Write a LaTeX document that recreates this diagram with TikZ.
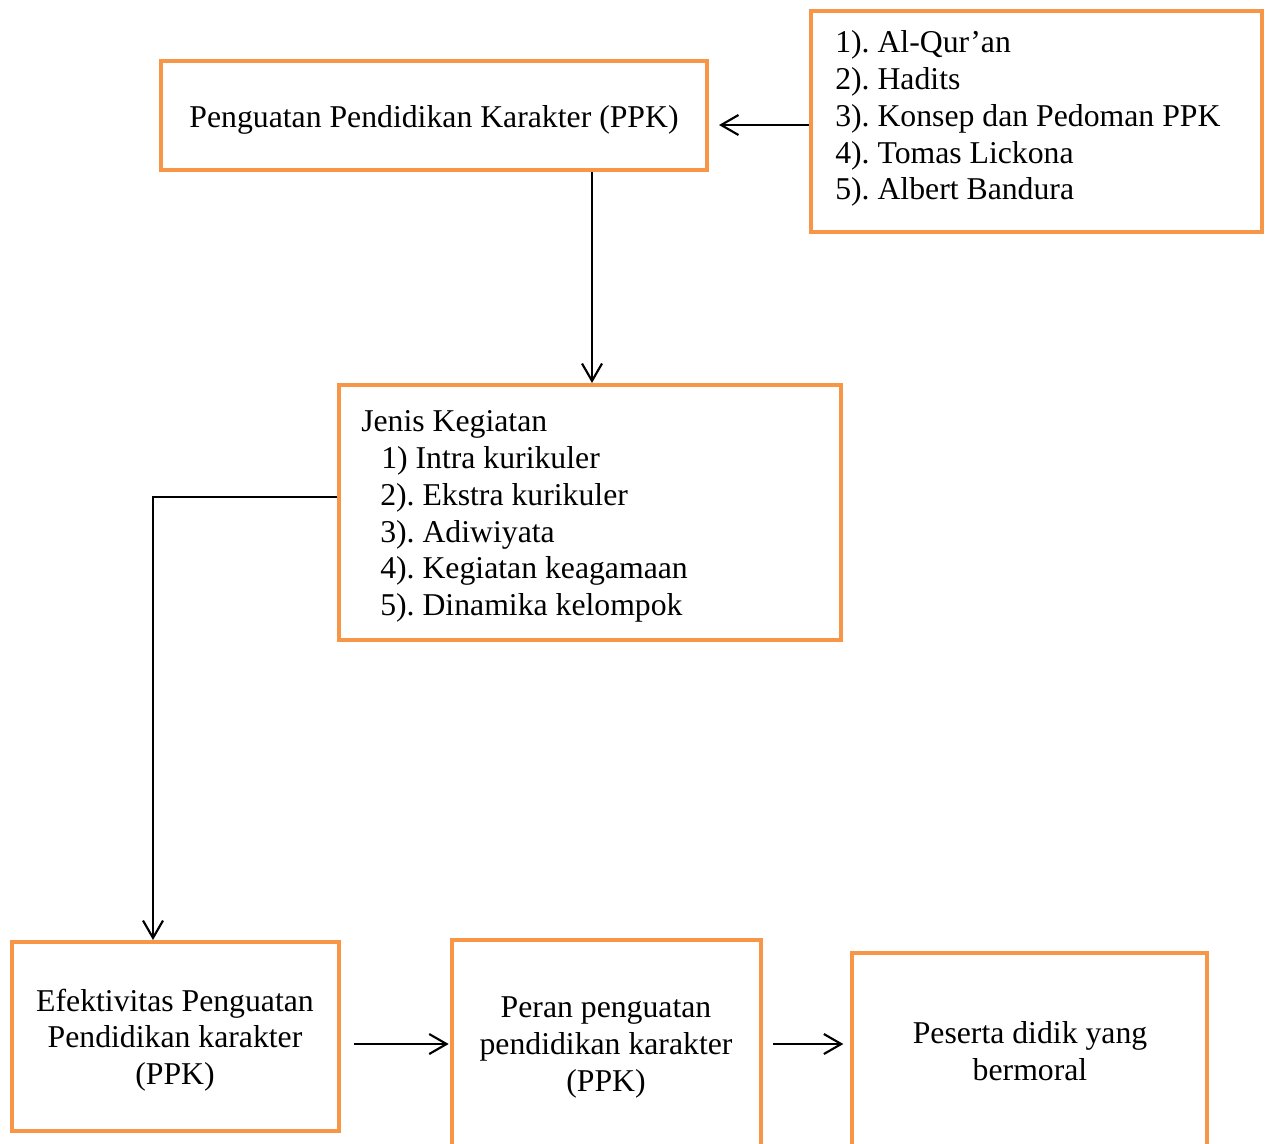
\documentclass[tikz,border=0pt]{standalone}
\usepackage{fontspec}
\setmainfont{Liberation Serif}
\usetikzlibrary{arrows.meta}
\definecolor{boxorange}{HTML}{F79646}
\frenchspacing
\tikzset{
  box/.style={draw=boxorange, line width=3pt, rectangle, inner sep=0pt, fill=none},
  arr/.style={line width=1.6pt, -{Straight Barb[length=13pt,width=15pt]}},
  txt/.style={inner sep=0pt, font=\frenchspacing\fontsize{23.8}{27.75}\selectfont, text=black},
}
\begin{document}
\begin{tikzpicture}[x=0.75pt,y=-0.75pt]
\useasboundingbox (0,0) rectangle (1266,1143);
\clip (0,0) rectangle (1266,1143);
\fill[white] (0,0) rectangle (1266,1143);

% boxes
\node[box, minimum width=409.5pt, minimum height=81.75pt] (ppk) at (434,115.5) {};
\node[box, minimum width=338.25pt, minimum height=165.75pt] (src) at (1036.5,121.5) {};
\node[box, minimum width=376.5pt, minimum height=191.25pt] (jenis) at (590,512.5) {};
\node[box, minimum width=245.25pt, minimum height=141.75pt] (efek) at (175.5,1036.5) {};
\node[box, minimum width=231.75pt, minimum height=180pt] (peran) at (606.5,1060) {};
\node[box, minimum width=266.25pt, minimum height=170.25pt] (peserta) at (1029.5,1066.5) {};

% texts
\node[txt, anchor=base] (tppk) at (434,127) {Penguatan Pendidikan Karakter (PPK)};

\node[txt, anchor=base west] (s1) at (835,52) {1). Al-Qur’an};
\node[txt, anchor=base west] (s2) at (835,89) {2). Hadits};
\node[txt, anchor=base west] (s3) at (835,126) {3). Konsep dan Pedoman PPK};
\node[txt, anchor=base west] (s4) at (835,163) {4). Tomas Lickona};
\node[txt, anchor=base west] (s5) at (835,199) {5). Albert Bandura};

\node[txt, anchor=base west] (j0) at (361,431.5) {Jenis Kegiatan};
\node[txt, anchor=base west] (j1) at (381,468.5) {1) Intra kurikuler};
\node[txt, anchor=base west] (j2) at (380,505.5) {2). Ekstra kurikuler};
\node[txt, anchor=base west] (j3) at (380,542.5) {3). Adiwiyata};
\node[txt, anchor=base west] (j4) at (380,578.5) {4). Kegiatan keagamaan};
\node[txt, anchor=base west] (j5) at (380,615.5) {5). Dinamika kelompok};

\node[txt, anchor=base] (e1) at (175,1011) {Efektivitas Penguatan};
\node[txt, anchor=base] (e2) at (175,1047.5) {Pendidikan karakter};
\node[txt, anchor=base] (e3) at (175,1084.5) {(PPK)};

\node[txt, anchor=base] (p1) at (606,1017) {Peran penguatan};
\node[txt, anchor=base] (p2) at (606,1054) {pendidikan karakter};
\node[txt, anchor=base] (p3) at (606,1091) {(PPK)};

\node[txt, anchor=base] (q1) at (1030,1043) {Peserta didik yang};
\node[txt, anchor=base] (q2) at (1030,1080) {bermoral};

% connectors
\coordinate (bend) at (153,497);
\coordinate (row) at (600,1044);
\coordinate (vx) at (592,300);
\draw[arr, shorten >=7.5pt] (src.west |- 0,125) -- (ppk.east |- 0,125);
\draw[arr] (ppk.south -| vx) -- (jenis.north -| vx);
\draw[arr] (jenis.west |- bend) -- (bend) -- (efek.north -| bend);
\draw[arr, shorten <=10pt, shorten >=1pt] (efek.east |- row) -- (peran.west |- row);
\draw[arr, shorten <=7.5pt, shorten >=5pt] (peran.east |- row) -- (peserta.west |- row);
\end{tikzpicture}
\end{document}
